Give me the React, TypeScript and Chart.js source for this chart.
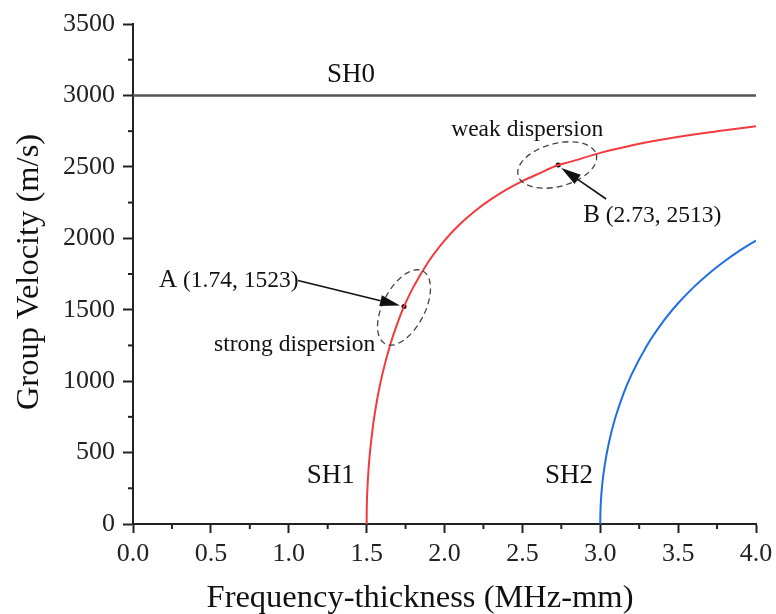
import React, { useEffect, useRef } from "react";
import { Chart, registerables } from "chart.js";

Chart.register(...registerables);

const SH0_X = [0, 4];
const SH0_Y = [3000, 3000];

const SH1_X = [1.5, 1.501, 1.505, 1.51, 1.52, 1.54, 1.56, 1.58, 1.6, 1.65, 1.7, 1.74, 1.8, 1.9, 2.0, 2.1, 2.2, 2.3, 2.4, 2.5, 2.6, 2.73, 2.8, 3.0, 3.2, 3.4, 3.6, 3.8, 4.0];
const SH1_Y = [0, 109, 244, 345, 485, 679, 824, 943, 1044, 1250, 1412, 1523, 1658, 1841, 1984, 2100, 2195, 2274, 2342, 2400, 2450, 2513, 2533, 2598, 2650, 2692, 2727, 2756, 2785];

const SH2_X = [3.0, 3.001, 3.005, 3.01, 3.02, 3.04, 3.07, 3.1, 3.15, 3.2, 3.3, 3.4, 3.5, 3.6, 3.7, 3.8, 3.9, 4.0];
const SH2_Y = [0, 77, 173, 244, 345, 485, 637, 756, 915, 1044, 1250, 1412, 1545, 1658, 1756, 1841, 1917, 1984];

const MARK_X = [1.74, 2.73];
const MARK_Y = [1523, 2513];
const MARK_NAMES = ["A", "B"];

const X_TICKS = [0, 0.5, 1, 1.5, 2, 2.5, 3, 3.5, 4];
const Y_TICKS = [0, 500, 1000, 1500, 2000, 2500, 3000, 3500];

const FONT = "'Liberation Serif', 'Times New Roman', serif";

const zip = (xs: number[], ys: number[]) => xs.map((x, i) => ({ x, y: ys[i] }));

const annotPlugin = {
  id: "annot",
  afterDraw(chart: any) {
    const ctx = chart.ctx as CanvasRenderingContext2D;
    const xs = chart.scales.x;
    const ys = chart.scales.y;
    const px = (v: number) => xs.getPixelForValue(v);
    const py = (v: number) => ys.getPixelForValue(v);
    const area = chart.chartArea;
    ctx.save();
    // minor ticks
    ctx.strokeStyle = "#222";
    ctx.lineWidth = 2;
    for (let i = 0; i < X_TICKS.length - 1; i++) {
      const v = (X_TICKS[i] + X_TICKS[i + 1]) / 2;
      const x = px(v);
      ctx.beginPath();
      ctx.moveTo(x, area.bottom);
      ctx.lineTo(x, area.bottom + 5);
      ctx.stroke();
    }
    for (let i = 0; i < Y_TICKS.length - 1; i++) {
      const v = (Y_TICKS[i] + Y_TICKS[i + 1]) / 2;
      const y = py(v);
      ctx.beginPath();
      ctx.moveTo(area.left, y);
      ctx.lineTo(area.left - 5, y);
      ctx.stroke();
    }

    ctx.fillStyle = "#111";
    ctx.textBaseline = "alphabetic";
    // curve labels
    ctx.font = `27px ${FONT}`;
    ctx.textAlign = "center";
    ctx.fillText("SH0", px(1.4), py(3000) - 13);
    ctx.fillText("SH1", px(1.27), py(0) - 41);
    ctx.fillText("SH2", px(2.8), py(0) - 41);

    // point annotations
    const ax = px(MARK_X[0]);
    const ay = py(MARK_Y[0]);
    const bx = px(MARK_X[1]);
    const by = py(MARK_Y[1]);

    ctx.textAlign = "left";
    ctx.font = `25px ${FONT}`;
    ctx.fillText(MARK_NAMES[0], ax - 245, ay - 19);
    const aw = ctx.measureText(MARK_NAMES[0]).width;
    ctx.font = `23.5px ${FONT}`;
    ctx.fillText(` (${MARK_X[0].toFixed(2)}, ${MARK_Y[0]})`, ax - 245 + aw, ay - 19);
    ctx.fillText("strong dispersion", ax - 190, ay + 45);

    ctx.font = `25px ${FONT}`;
    ctx.fillText(MARK_NAMES[1], bx + 25, by + 57);
    const bw = ctx.measureText(MARK_NAMES[1]).width;
    ctx.font = `23.5px ${FONT}`;
    ctx.fillText(` (${MARK_X[1].toFixed(2)}, ${MARK_Y[1]})`, bx + 25 + bw, by + 57);
    ctx.fillText("weak dispersion", bx - 107, by - 29);

    // ellipses
    ctx.strokeStyle = "#444";
    ctx.lineWidth = 1.3;
    ctx.setLineDash([6, 4]);
    ctx.beginPath();
    ctx.ellipse(ax, ay + 1, 41, 21, (-62.7 * Math.PI) / 180, 0, Math.PI * 2);
    ctx.stroke();
    ctx.beginPath();
    ctx.ellipse(bx - 1, by, 40.5, 21.5, (-15 * Math.PI) / 180, 0, Math.PI * 2);
    ctx.stroke();
    ctx.setLineDash([]);

    // arrows
    const arrow = (x1: number, y1: number, x2: number, y2: number) => {
      const ang = Math.atan2(y2 - y1, x2 - x1);
      const hl = 20;
      const hw = 5.5;
      const bxp = x2 - hl * Math.cos(ang);
      const byp = y2 - hl * Math.sin(ang);
      ctx.strokeStyle = "#111";
      ctx.lineWidth = 1.6;
      ctx.beginPath();
      ctx.moveTo(x1, y1);
      ctx.lineTo(bxp, byp);
      ctx.stroke();
      ctx.fillStyle = "#111";
      ctx.beginPath();
      ctx.moveTo(x2, y2);
      ctx.lineTo(bxp + hw * Math.sin(ang), byp - hw * Math.cos(ang));
      ctx.lineTo(bxp - hw * Math.sin(ang), byp + hw * Math.cos(ang));
      ctx.closePath();
      ctx.fill();
    };
    arrow(ax - 106, ay - 26, ax - 4, ay - 1);
    arrow(bx + 48, by + 34, bx + 3, by + 3);

    // axis titles
    ctx.fillStyle = "#111";
    ctx.font = `32.5px ${FONT}`;
    ctx.textAlign = "center";
    ctx.textBaseline = "alphabetic";
    ctx.fillText("Frequency-thickness (MHz-mm)", 420, 607);
    ctx.save();
    ctx.translate(29, (area.top + area.bottom) / 2 - 2);
    ctx.rotate(-Math.PI / 2);
    ctx.textBaseline = "middle";
    ctx.fillText("Group Velocity (m/s)", 0, 0);
    ctx.restore();
    ctx.restore();
  },
};

export default function App() {
  const ref = useRef<HTMLCanvasElement | null>(null);
  useEffect(() => {
    document.body.style.margin = "0";
    if (!ref.current) return;
    Chart.defaults.font.family = FONT;
    const chart = new Chart(ref.current, {
      type: "scatter",
      data: {
        datasets: [
          {
            label: "SH0",
            data: zip(SH0_X, SH0_Y),
            showLine: true,
            borderColor: "#555",
            borderWidth: 2.5,
            pointRadius: 0,
          },
          {
            label: "SH1",
            data: zip(SH1_X, SH1_Y),
            showLine: true,
            borderColor: "#f23a3f",
            borderWidth: 2,
            pointRadius: 0,
            cubicInterpolationMode: "monotone",
          },
          {
            label: "SH2",
            data: zip(SH2_X, SH2_Y),
            showLine: true,
            borderColor: "#1f6fe3",
            borderWidth: 2,
            pointRadius: 0,
            cubicInterpolationMode: "monotone",
          },
          {
            label: "marks",
            data: zip(MARK_X, MARK_Y),
            showLine: false,
            pointRadius: 2.5,
            pointBackgroundColor: "#000",
            pointBorderWidth: 0,
          },
        ],
      } as any,
      options: {
        animation: false,
        responsive: true,
        maintainAspectRatio: false,
        layout: { padding: { left: 0, top: 24, right: 20, bottom: 0 } },
        plugins: { legend: { display: false }, tooltip: { enabled: false } },
        scales: {
          x: {
            type: "linear",
            min: 0,
            max: 4,
            afterFit: (s: any) => {
              s.height = 90;
              s.paddingRight = 0;
              s.paddingLeft = 0;
            },
            afterBuildTicks: (s: any) => {
              s.ticks = X_TICKS.map((v) => ({ value: v }));
            },
            ticks: {
              callback: (v: any) => Number(v).toFixed(1),
              color: "#222",
              font: { size: 26, family: FONT },
              padding: 6,
              maxRotation: 0,
            },
            grid: {
              drawOnChartArea: false,
              drawTicks: true,
              tickLength: 9,
              tickColor: "#222",
              tickWidth: 2,
            },
            border: { display: true, color: "#222", width: 2 },
          },
          y: {
            type: "linear",
            min: 0,
            max: 3500,
            afterFit: (s: any) => {
              s.width = 133;
            },
            afterBuildTicks: (s: any) => {
              s.ticks = Y_TICKS.map((v) => ({ value: v }));
            },
            ticks: {
              callback: (v: any) => String(v),
              color: "#222",
              font: { size: 26, family: FONT },
              padding: 8,
            },
            grid: {
              drawOnChartArea: false,
              drawTicks: true,
              tickLength: 10,
              tickColor: "#222",
              tickWidth: 2,
            },
            border: { display: true, color: "#222", width: 2 },
          },
        },
      } as any,
      plugins: [annotPlugin],
    });
    return () => chart.destroy();
  }, []);
  return (
    <div style={{ position: "absolute", left: 0, top: 0, width: 776, height: 614 }}>
      <canvas ref={ref} />
    </div>
  );
}
